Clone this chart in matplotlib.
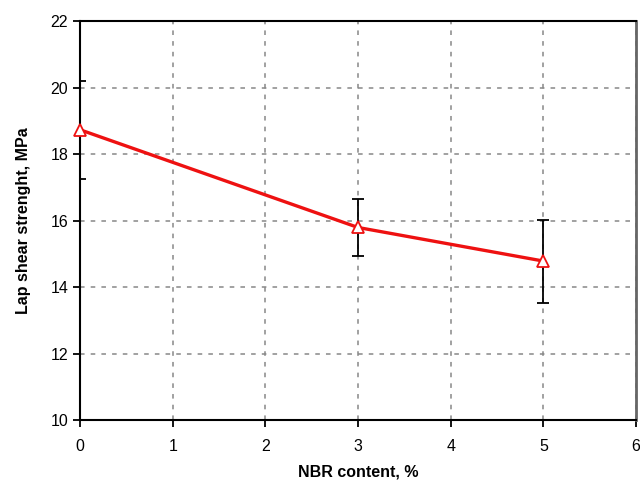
import matplotlib
matplotlib.use("Agg")
import matplotlib.pyplot as plt

nbr = [0, 3, 5]
strength = [18.73, 15.79, 14.78]
err = [1.48, 0.86, 1.25]
xticks = [0, 1, 2, 3, 4, 5, 6]
yticks = [10, 12, 14, 16, 18, 20, 22]

plt.rcParams['font.family'] = ['Liberation Sans', 'DejaVu Sans']
fig = plt.figure(figsize=(6.4, 4.82), dpi=100)
ax = fig.add_axes([0.125, 0.1286, 0.869, 0.8278])

ax.errorbar(nbr, strength, yerr=err, fmt='none', ecolor='black', elinewidth=1.3,
            capsize=4, capthick=1.3, zorder=3)
ax.plot(nbr, strength, color='#ee1111', lw=2.4, zorder=4)
ax.plot(nbr, strength, linestyle='none', marker='^', markersize=9,
        markerfacecolor='white', markeredgecolor='#ee1111', markeredgewidth=1.3, zorder=5,
        clip_on=False)

ax.set_xlim(0, 6)
ax.set_ylim(10, 22)
ax.set_xticks(xticks)
ax.set_yticks(yticks)
ax.grid(True, linestyle=(0, (3, 4)), color='#888888', linewidth=1.1)
ax.tick_params(direction='out', length=5, width=1.3, labelsize=11.5, colors='black')
ax.tick_params(axis='x', pad=9)
for s in ['left', 'bottom', 'top']:
    ax.spines[s].set_linewidth(1.5)
    ax.spines[s].set_color('black')
ax.spines['right'].set_linewidth(2)
ax.spines['right'].set_color('#666666')

ax.set_xlabel('NBR content, %', fontsize=11.5, fontweight='bold', labelpad=7)
ax.set_ylabel('Lap shear strenght, MPa', fontsize=11.5, fontweight='bold', labelpad=14)

fig.savefig('out.png', dpi=100)
